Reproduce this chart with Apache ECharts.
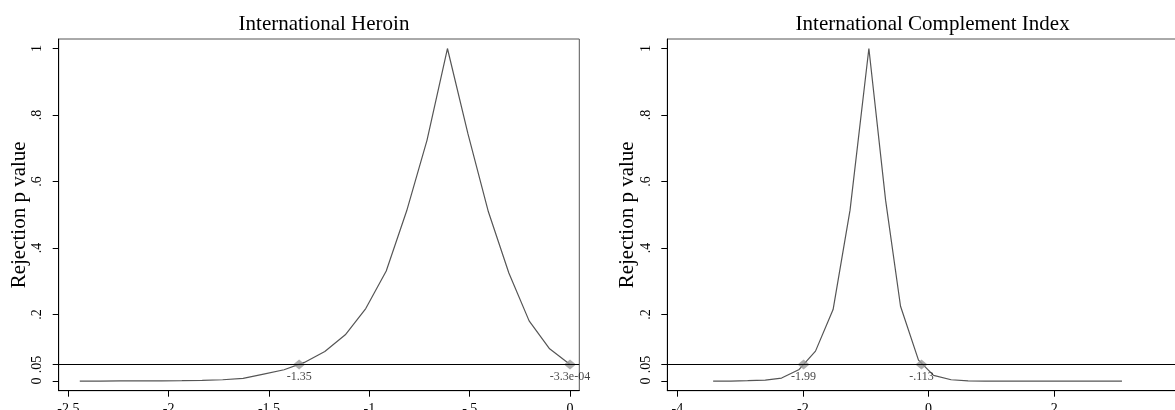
<!DOCTYPE html>
<html>
<head>
<meta charset="utf-8">
<script src="https://cdn.jsdelivr.net/npm/echarts@6/dist/echarts.min.js"></script>
<style>
html,body{margin:0;padding:0;background:#fff;}
#chart{width:1175px;height:410px;}
</style>
</head>
<body>
<div id="chart"></div>
<script>
// ---- data ----
const titles = ['International Heroin', 'International Complement Index'];
const yName = 'Rejection p value';

const heroinX = [-2.443, -2.341, -2.240, -2.138, -2.036, -1.934, -1.833, -1.731, -1.629, -1.527, -1.425, -1.324, -1.222, -1.120, -1.018, -0.916, -0.814, -0.713, -0.611, -0.509, -0.407, -0.305, -0.204, -0.102, 0.0];
const heroinP = [0, 0, 0.0003, 0.0005, 0.0008, 0.001, 0.002, 0.004, 0.008, 0.021, 0.034, 0.056, 0.089, 0.139, 0.218, 0.331, 0.512, 0.724, 1.0, 0.744, 0.509, 0.325, 0.181, 0.097, 0.05];

const complX = [-3.43, -3.15, -2.88, -2.60, -2.34, -2.06, -1.80, -1.52, -1.25, -0.95, -0.684, -0.446, -0.16, 0.08, 0.36, 0.63, 0.90, 1.17, 1.44, 1.72, 1.99, 2.26, 2.53, 2.81, 3.08];
const complP = [0, 0, 0.001, 0.003, 0.009, 0.035, 0.09, 0.215, 0.514, 1.0, 0.544, 0.225, 0.063, 0.017, 0.004, 0.0005, 0, 0, 0, 0, 0, 0, 0, 0, 0];

const threshold = 0.05;
const heroinCuts = [-1.35, -3.3e-4];
const heroinCutLabels = ['-1.35', '-3.3e-04'];
const complCuts = [-1.99, -0.113];
const complCutLabels = ['-1.99', '-.113'];

const heroinXTicks = [-2.5, -2, -1.5, -1, -0.5, 0];
const heroinXTickLabels = ['-2.5', '-2', '-1.5', '-1', '-.5', '0'];
const complXTicks = [-4, -2, 0, 2];
const complXTickLabels = ['-4', '-2', '0', '2'];
const yTicks = [0, 0.05, 0.2, 0.4, 0.6, 0.8, 1];
const yTickLabels = ['0', '.05', '.2', '.4', '.6', '.8', '1'];

// ---- layout ----
const FONT = '"Liberation Serif", "Times New Roman", serif';
const gridW = 520.6, gridH = 351.7, gridTop = 39;
const gridLefts = [58.7, 667.3];
const xRanges = [[-2.548, 0.046], [-4.16, 4.13]];
const yRange = [-0.029, 1.0286];

function fmt(ticks, labels) {
  return function (v) {
    const i = ticks.findIndex(t => Math.abs(t - v) < 1e-9);
    return i >= 0 ? labels[i] : '';
  };
}

const chart = echarts.init(document.getElementById('chart'), null, {renderer: 'canvas'});

const grids = gridLefts.map(l => ({
  left: l, top: gridTop, width: gridW, height: gridH,
  outerBoundsMode: 'none', containLabel: false,
  show: true, borderColor: '#555', borderWidth: 1, backgroundColor: 'transparent'
}));

const xTickSets = [[heroinXTicks, heroinXTickLabels], [complXTicks, complXTickLabels]];
const xAxes = xTickSets.map((s, i) => ({
  type: 'value', gridIndex: i, min: xRanges[i][0], max: xRanges[i][1],
  axisLine: {show: true, onZero: false, lineStyle: {color: '#000', width: 1}},
  axisTick: {show: true, length: 6, lineStyle: {color: '#000'}, customValues: s[0]},
  axisLabel: {show: true, margin: 12, fontFamily: FONT, fontSize: 14, color: '#000',
    customValues: s[0], formatter: fmt(s[0], s[1])},
  splitLine: {show: false}
}));

const yAxes = [0, 1].map(i => ({
  type: 'value', gridIndex: i, min: yRange[0], max: yRange[1],
  name: yName, nameLocation: 'middle', nameGap: 28, nameRotate: 90,
  nameTextStyle: {fontFamily: FONT, fontSize: 21, color: '#000'},
  axisLine: {show: true, onZero: false, lineStyle: {color: '#000', width: 1}},
  axisTick: {show: true, length: 6, lineStyle: {color: '#000'}, customValues: yTicks},
  axisLabel: {show: true, rotate: 90, margin: 14, fontFamily: FONT, fontSize: 14, color: '#000',
    customValues: yTicks, formatter: fmt(yTicks, yTickLabels)},
  splitLine: {show: false}
}));

const curves = [[heroinX, heroinP], [complX, complP]];
const cuts = [[heroinCuts, heroinCutLabels], [complCuts, complCutLabels]];
const series = [];
curves.forEach((c, i) => {
  series.push({
    type: 'line', xAxisIndex: i, yAxisIndex: i,
    data: c[0].map((x, k) => [x, c[1][k]]),
    showSymbol: false, symbol: 'none', smooth: false,
    lineStyle: {color: '#555', width: 1.2},
    z: 3,
    markLine: {
      silent: true, symbol: 'none', animation: false,
      lineStyle: {color: '#000', width: 1, type: 'solid'},
      label: {show: false},
      data: [{yAxis: threshold}]
    }
  });
  series.push({
    type: 'scatter', xAxisIndex: i, yAxisIndex: i,
    data: cuts[i][0].map((x, k) => ({value: [x, threshold], name: cuts[i][1][k]})),
    symbol: 'diamond', symbolSize: [12, 10],
    itemStyle: {color: '#999'},
    z: 4,
    label: {show: true, position: 'bottom', distance: 1, formatter: p => p.name,
      fontFamily: FONT, fontSize: 12, color: '#111'}
  });
});

chart.setOption({
  animation: false,
  backgroundColor: '#fff',
  title: titles.map((t, i) => ({
    text: t, left: gridLefts[i] + gridW / 2, top: 9, textAlign: 'center',
    textStyle: {fontFamily: FONT, fontSize: 21, fontWeight: 'normal', color: '#000'}
  })),
  grid: grids,
  xAxis: xAxes,
  yAxis: yAxes,
  series: series
});
</script>
</body>
</html>
